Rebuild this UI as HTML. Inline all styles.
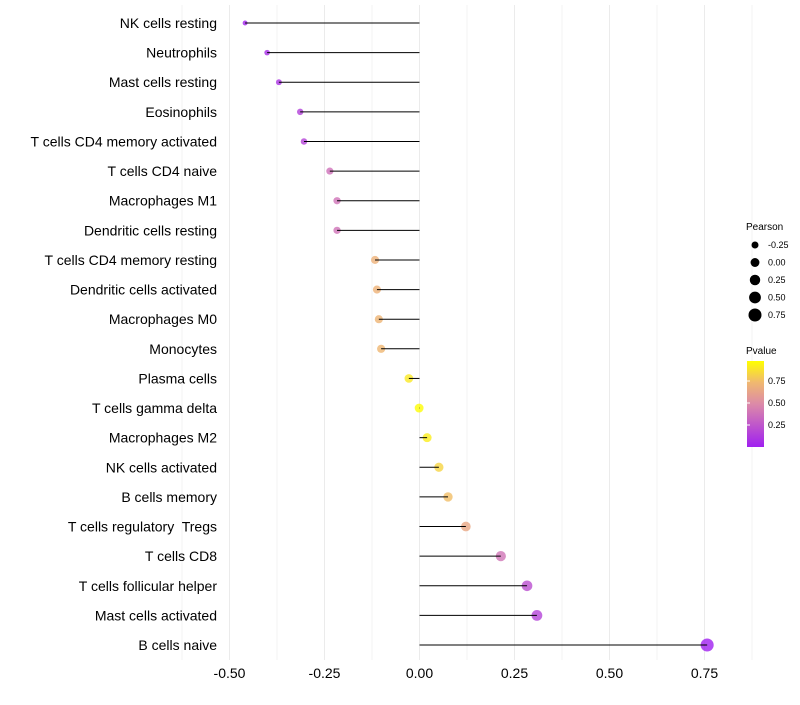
<!DOCTYPE html>
<html><head><meta charset="utf-8"><style>
body{margin:0;background:#fff;font-family:"Liberation Sans",sans-serif}
text{white-space:pre}
</style></head><body>
<svg id="c" width="800" height="700" xmlns="http://www.w3.org/2000/svg">
<defs><linearGradient id="pg" x1="0" y1="1" x2="0" y2="0">
<stop offset="0" stop-color="#a020f0"/><stop offset="0.5" stop-color="#dc8aa8"/><stop offset="0.75" stop-color="#f0b870"/><stop offset="1" stop-color="#ffff00"/>
</linearGradient></defs>
<g id="grid"></g><g id="dots"></g><g id="marks"></g><g id="labels"></g>
<g id="legend">
<text x="746" y="230" font-size="10">Pearson</text>
<text x="746" y="354" font-size="10">Pvalue</text>
<rect x="747" y="361" width="17" height="86" fill="url(#pg)"/>
</g>
</svg>
<script>
const categories=["NK cells resting","Neutrophils","Mast cells resting","Eosinophils","T cells CD4 memory activated","T cells CD4 naive","Macrophages M1","Dendritic cells resting","T cells CD4 memory resting","Dendritic cells activated","Macrophages M0","Monocytes","Plasma cells","T cells gamma delta","Macrophages M2","NK cells activated","B cells memory","T cells regulatory  Tregs","T cells CD8","T cells follicular helper","Mast cells activated","B cells naive"];
const pearson=[-0.459,-0.401,-0.370,-0.314,-0.304,-0.236,-0.217,-0.217,-0.117,-0.112,-0.107,-0.101,-0.028,-0.001,0.020,0.051,0.075,0.122,0.214,0.283,0.309,0.757];
const pvalue=[0.02,0.06,0.09,0.15,0.17,0.38,0.39,0.39,0.71,0.72,0.73,0.74,0.92,0.99,0.94,0.85,0.77,0.66,0.40,0.22,0.17,0.0001];
const xTicks=[-0.5,-0.25,0,0.25,0.5,0.75];
const xTickLabels=["-0.50","-0.25","0.00","0.25","0.50","0.75"];
const sizeLegend=[-0.25,0,0.25,0.5,0.75];
const sizeLegendLabels=["-0.25","0.00","0.25","0.50","0.75"];
const colorLegend=[0.25,0.5,0.75];
const NS="http://www.w3.org/2000/svg";
const x=v=>419.5+v*380;
const y=i=>23+i*(622/21);
const r=v=>Math.sqrt(Math.max(2,19.75+30*v));
const stops=[[0,[160,32,240]],[0.5,[220,138,168]],[0.75,[240,184,112]],[1,[255,255,0]]];
function col(p){for(let k=1;k<stops.length;k++){if(p<=stops[k][0]){const a=stops[k-1],b=stops[k],t=(p-a[0])/(b[0]-a[0]);return "rgb("+a[1].map((c,j)=>Math.round(c+(b[1][j]-c)*t)).join(",")+")";}}return "rgb(255,255,0)";}
function mk(t,at,parent){const e=document.createElementNS(NS,t);for(const k in at)e.setAttribute(k,at[k]);document.getElementById(parent).appendChild(e);return e;}
const grid="grid";
for(let v=-0.625;v<=0.9;v+=0.125){const e=mk("line",{x1:x(v),x2:x(v),y1:5,y2:660,stroke:"#ebebeb","stroke-width":Math.abs((v*4)%1)<1e-6?1:0.6},grid);

}
xTicks.forEach((v,i)=>{const t=mk("text",{x:x(v),y:678,"font-size":14,"text-anchor":"middle",fill:"#000"},"labels");t.textContent=xTickLabels[i];

});
categories.forEach((c,i)=>{
const t=mk("text",{x:217,y:y(i)+5,"font-size":14,"text-anchor":"end",fill:"#000"},"labels");t.textContent=c;


const d=mk("circle",{cx:x(pearson[i]),cy:y(i),r:r(pearson[i]),fill:col(pvalue[i]),"fill-opacity":0.8},"dots");


const l=mk("line",{x1:x(0),x2:x(pearson[i]),y1:y(i),y2:y(i),stroke:"#000","stroke-width":1},"marks");


});
sizeLegend.forEach((v,i)=>{const yy=245+i*17.5;
const d=mk("circle",{cx:755,cy:yy,r:r(v),fill:"#000"},"legend");


const t=mk("text",{x:768,y:yy+3,"font-size":9},"legend");t.textContent=sizeLegendLabels[i];

});
colorLegend.forEach(v=>{const yy=447-v*88;
const t=mk("text",{x:768,y:yy+3,"font-size":9},"legend");t.textContent=v.toFixed(2);


const l=mk("line",{x1:747,x2:750,y1:yy,y2:yy,stroke:"#fff"},"legend");

});
</script>
</body></html>
